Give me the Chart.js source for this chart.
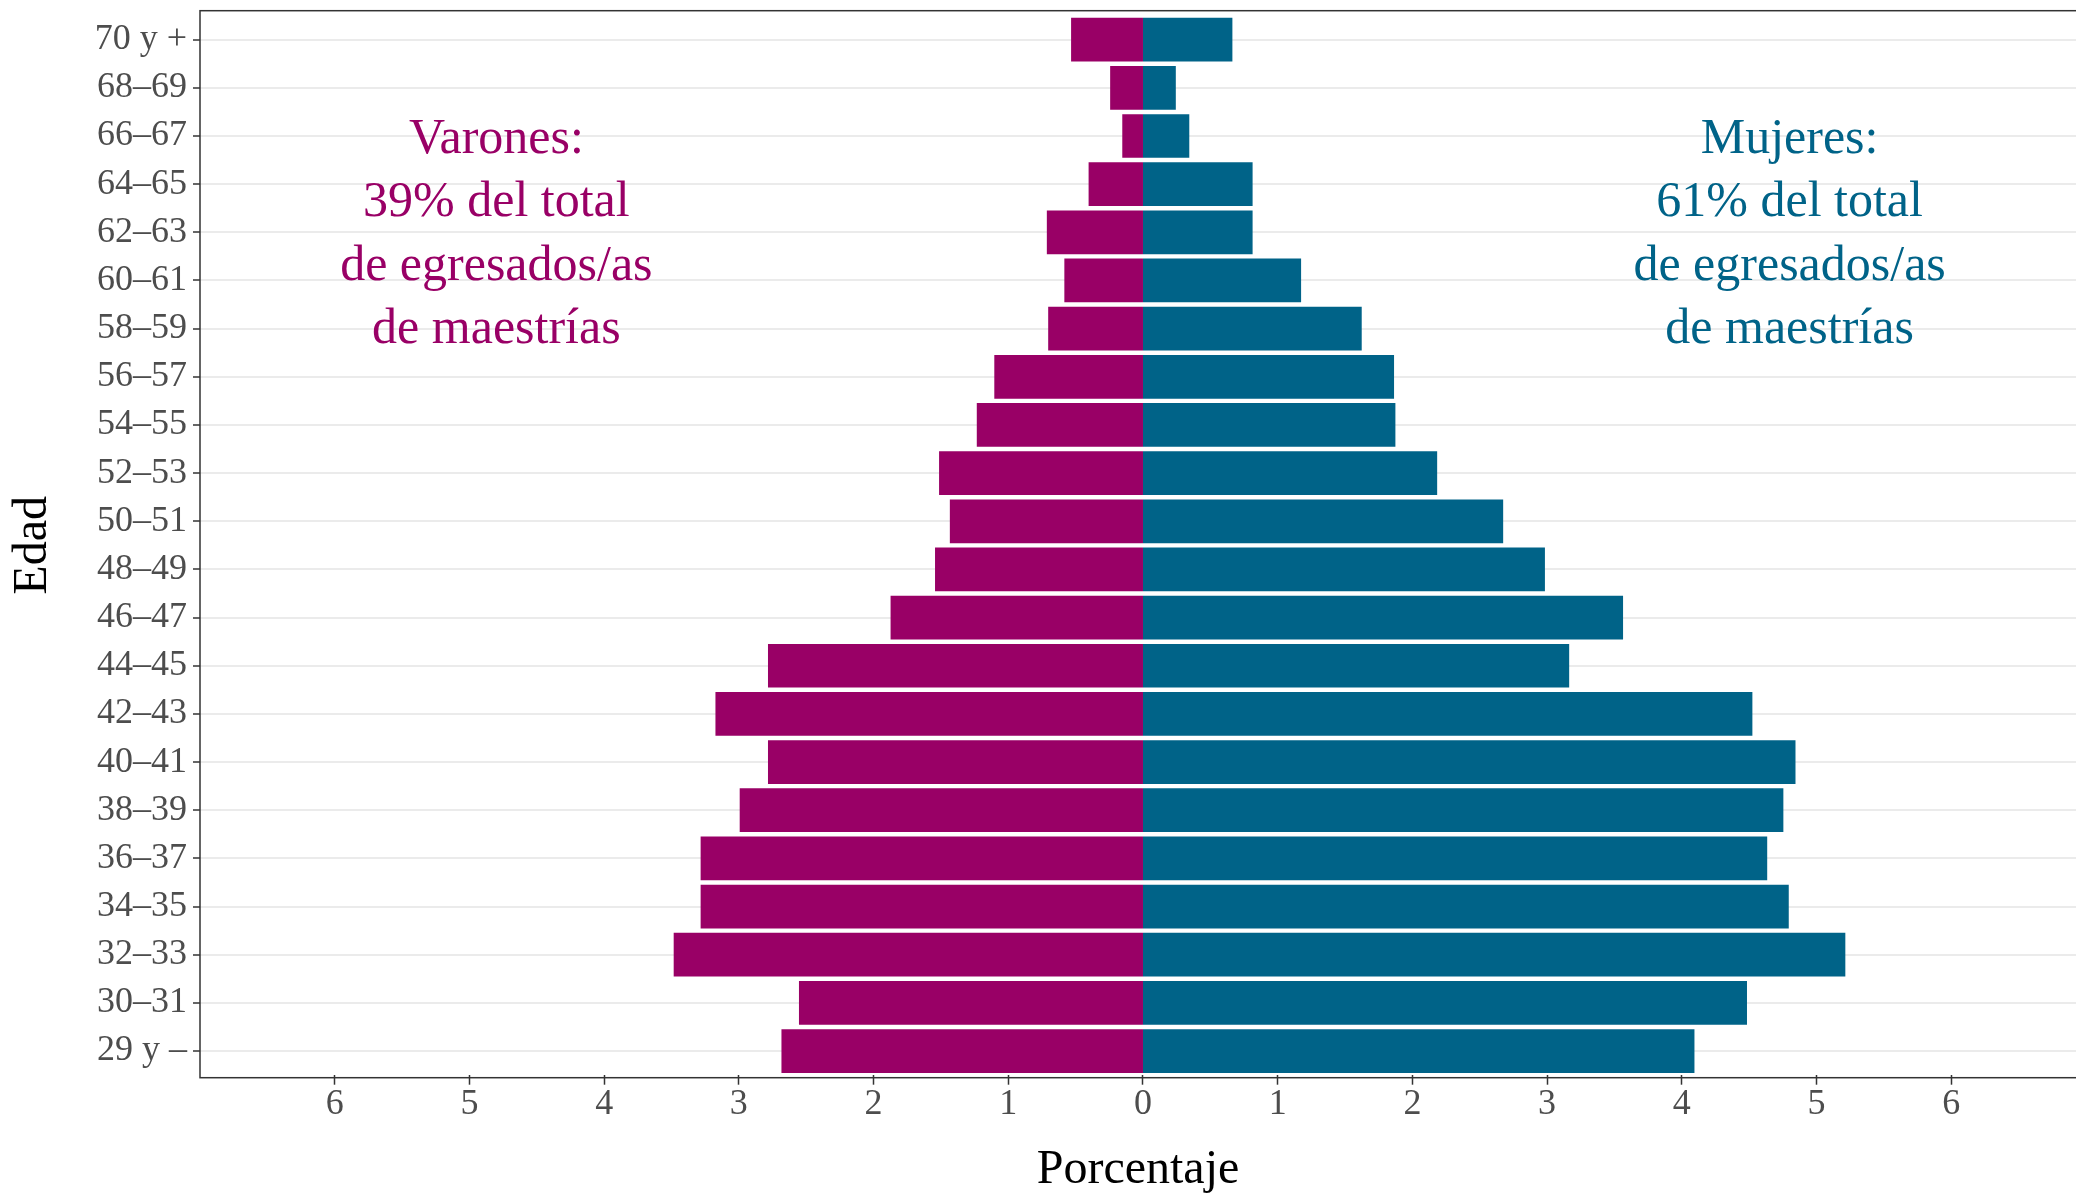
<!DOCTYPE html>
<html>
<head>
<meta charset="utf-8">
<script src="https://cdn.jsdelivr.net/npm/chart.js@4.4.1/dist/chart.umd.min.js"></script>
<style>
  html, body { margin: 0; padding: 0; background: #fff; }
  #wrap { width: 2076px; height: 1195px; }
</style>
</head>
<body>
<div id="wrap"><canvas id="piramide"></canvas></div>
<script>
// edades de arriba hacia abajo
const edades = ['70 y +', '68–69', '66–67', '64–65', '62–63', '60–61', '58–59', '56–57',
                '54–55', '52–53', '50–51', '48–49', '46–47', '44–45', '42–43', '40–41',
                '38–39', '36–37', '34–35', '32–33', '30–31', '29 y –'];
const varones = [0.53, 0.24, 0.15, 0.40, 0.71, 0.58, 0.70, 1.10, 1.23, 1.51, 1.43,
                 1.54, 1.87, 2.78, 3.17, 2.78, 2.99, 3.28, 3.28, 3.48, 2.55, 2.68];
const mujeres = [0.66, 0.24, 0.34, 0.81, 0.81, 1.17, 1.62, 1.86, 1.87, 2.18, 2.67,
                 2.98, 3.56, 3.16, 4.52, 4.84, 4.75, 4.63, 4.79, 5.21, 4.48, 4.09];
const ticksX = [-6, -5, -4, -3, -2, -1, 0, 1, 2, 3, 4, 5, 6];
const notaVarones = ['Varones:', '39% del total', 'de egresados/as', 'de maestrías'];
const notaMujeres = ['Mujeres:', '61% del total', 'de egresados/as', 'de maestrías'];

const colVarones = '#990066';
const colMujeres = '#006388';
const serif = '"Liberation Serif", "Times New Roman", serif';

// borde del panel (un poco mas alto que el area de barras) y notas
const extras = {
  id: 'extras',
  afterDatasetsDraw(chart) {
    const { ctx, chartArea: a, scales: { x, y } } = chart;
    ctx.save();
    ctx.strokeStyle = '#333333';
    ctx.lineWidth = 1.5;
    const top = a.top - 4.9, bottom = a.bottom + 2.6;
    ctx.strokeRect(a.left, top, a.right - a.left + 4, bottom - top);

    const step = y.getPixelForValue(1) - y.getPixelForValue(0);
    const base = y.getPixelForValue(2) + 0.36 * step;
    ctx.font = '50px ' + serif;
    ctx.textAlign = 'center';
    ctx.textBaseline = 'alphabetic';
    ctx.fillStyle = colVarones;
    notaVarones.forEach((t, i) => ctx.fillText(t, x.getPixelForValue(-4.8), base + i * 1.31 * step));
    ctx.fillStyle = colMujeres;
    notaMujeres.forEach((t, i) => ctx.fillText(t, x.getPixelForValue(4.8), base + i * 1.31 * step));
    ctx.restore();
  }
};

new Chart('piramide', {
  type: 'bar',
  data: {
    labels: edades,
    datasets: [
      { label: 'Varones', data: varones.map(v => -v), backgroundColor: colVarones },
      { label: 'Mujeres', data: mujeres, backgroundColor: colMujeres }
    ]
  },
  options: {
    indexAxis: 'y',
    responsive: true,
    maintainAspectRatio: false,
    animation: false,
    layout: { padding: { top: 15.6, right: 0, left: 0, bottom: 0 } },
    datasets: { bar: { barPercentage: 0.887, categoryPercentage: 1.0, borderWidth: 0, inflateAmount: 0.5 } },
    plugins: { legend: { display: false }, tooltip: { enabled: false } },
    scales: {
      x: {
        stacked: true,
        min: -7,
        max: 6.926,
        afterBuildTicks: (axis) => { axis.ticks = ticksX.map(v => ({ value: v })); },
        afterFit: (scale) => { scale.height = 119.9; scale.paddingLeft = 0; scale.paddingRight = 0; },
        ticks: {
          autoSkip: false,
          maxRotation: 0,
          padding: -2,
          color: '#4d4d4d',
          font: { family: serif, size: 36 },
          callback: (v) => Math.abs(v)
        },
        grid: { drawOnChartArea: false, drawTicks: true, tickLength: 9.6, tickColor: '#333333', tickWidth: 1.5 },
        border: { display: false },
        title: {
          display: true, text: 'Porcentaje', color: '#000000',
          font: { family: serif, size: 48, lineHeight: 1 },
          padding: { top: 0, bottom: 1 }
        }
      },
      y: {
        stacked: true,
        afterFit: (scale) => { scale.width = 200; scale.paddingTop = 0; scale.paddingBottom = 0; },
        ticks: {
          autoSkip: false,
          padding: 6,
          color: '#4d4d4d',
          font: { family: serif, size: 36 }
        },
        grid: { offset: false, color: '#ebebeb', lineWidth: 2, tickLength: 7, tickColor: '#333333', tickWidth: 1.5 },
        border: { display: false },
        title: {
          display: true, text: 'Edad', color: '#000000',
          font: { family: serif, size: 48, lineHeight: 1 },
          padding: { top: 9, bottom: 0 }
        }
      }
    }
  },
  plugins: [extras]
});
</script>
</body>
</html>
